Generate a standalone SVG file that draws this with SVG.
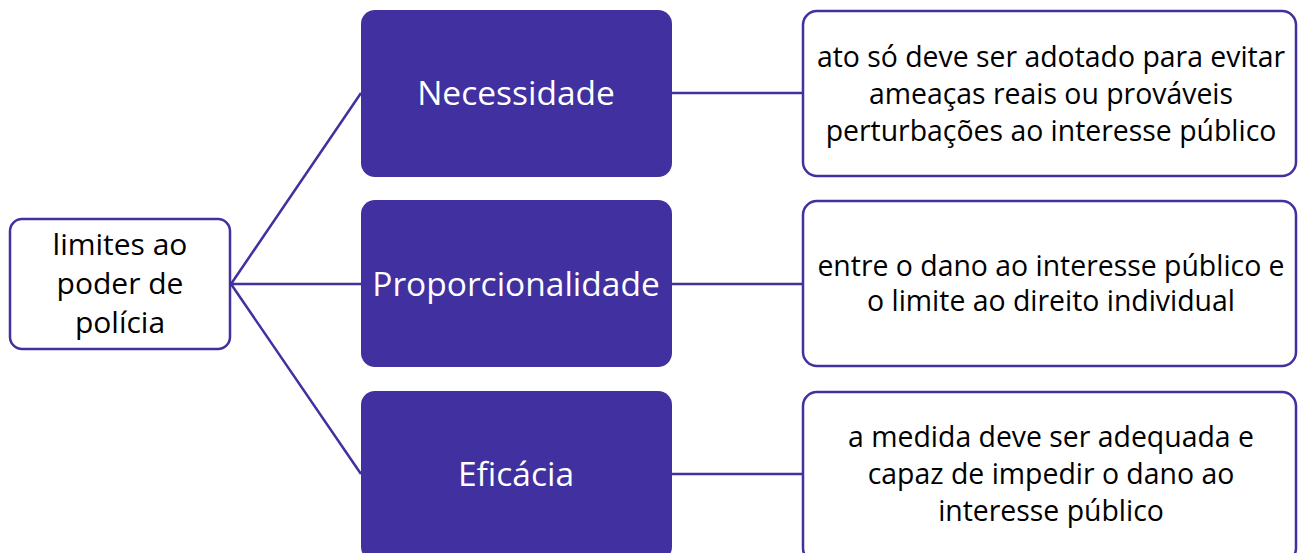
<svg xmlns="http://www.w3.org/2000/svg" width="1298" height="553" viewBox="0 0 1298 553">
<style>
.root{fill:#fff;stroke:#4030a0;stroke-width:2.5}
.mid{fill:#4030a0}
.leaf{fill:#fff;stroke:#4030a0;stroke-width:2.5}
.t{font-family:"Open Sans",Lato,sans-serif;text-anchor:middle;fill:#000}
.tw{font-family:"Open Sans",Lato,sans-serif;text-anchor:middle;fill:#fff;font-size:33.5px}
.con{stroke:#4030a0;stroke-width:2.5;fill:none}
</style>
<rect width="1298" height="553" fill="#fff"/>
<g id="connectors">
<path class="con" d="M231 284 L361 93 M231 284 L361 284 M231 284 L361 474"/>
<path class="con" d="M672 93 L803 93 M672 284 L803 284 M672 474 L803 474"/>
</g>
<g id="root">
<rect class="root" x="10" y="219" width="220" height="130" rx="12"/>
<text class="t" font-size="30" x="120" y="255">limites ao</text>
<text class="t" font-size="30" x="120" y="294">poder de</text>
<text class="t" font-size="30" x="120" y="333">polícia</text>
</g>
<g id="necessidade">
<rect class="mid" x="361" y="10" width="311" height="167" rx="14"/>
<text class="tw" x="516" y="105">Necessidade</text>
</g>
<g id="proporcionalidade">
<rect class="mid" x="361" y="200" width="311" height="167" rx="14"/>
<text class="tw" x="516" y="296">Proporcionalidade</text>
</g>
<g id="eficacia">
<rect class="mid" x="361" y="391" width="311" height="170" rx="14"/>
<text class="tw" x="516" y="486">Eficácia</text>
</g>
<g id="desc1">
<rect class="leaf" x="803" y="11" width="493" height="165" rx="14"/>
<text class="t" font-size="28.4" x="1051" y="67">ato só deve ser adotado para evitar</text>
<text class="t" font-size="28.4" x="1051" y="104">ameaças reais ou prováveis</text>
<text class="t" font-size="28.4" x="1051" y="141">perturbações ao interesse público</text>
</g>
<g id="desc2">
<rect class="leaf" x="803" y="201" width="493" height="165" rx="14"/>
<text class="t" font-size="28.4" x="1051" y="276">entre o dano ao interesse público e</text>
<text class="t" font-size="28.4" x="1051" y="311">o limite ao direito individual</text>
</g>
<g id="desc3">
<rect class="leaf" x="803" y="392" width="493" height="170" rx="14"/>
<text class="t" font-size="28.4" x="1051" y="447">a medida deve ser adequada e</text>
<text class="t" font-size="28.4" x="1051" y="484">capaz de impedir o dano ao</text>
<text class="t" font-size="28.4" x="1051" y="521">interesse público</text>
</g>
</svg>
